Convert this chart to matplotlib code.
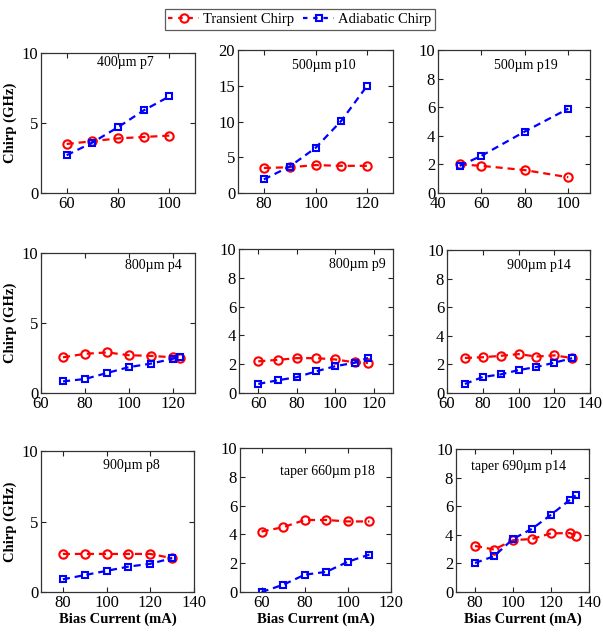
import matplotlib
matplotlib.use("Agg")
import matplotlib.pyplot as plt
from matplotlib.lines import Line2D

plt.rcParams['font.family'] = ['Liberation Serif', 'DejaVu Serif']

# ---------------- data ----------------
titles = ["400\u00b5m p7", "500\u00b5m p10", "500\u00b5m p19",
          "800\u00b5m p4", "800\u00b5m p9", "900\u00b5m p14",
          "900\u00b5m p8", "taper 660\u00b5m p18", "taper 690\u00b5m p14"]

x1 = [60, 70, 80, 90, 100]
tr1 = [3.5, 3.7, 3.9, 4.0, 4.1]
ad1 = [2.7, 3.6, 4.7, 5.9, 6.9]

x2 = [80, 90, 100, 110, 120]
tr2 = [3.5, 3.6, 3.9, 3.8, 3.8]
ad2 = [1.9, 3.7, 6.3, 10.1, 15.0]

x3 = [50, 60, 80, 100]
tr3 = [2.0, 1.9, 1.6, 1.1]
ad3 = [1.9, 2.6, 4.3, 5.9]

x4 = [70, 80, 90, 100, 110, 120, 123]
tr4 = [2.55, 2.8, 2.9, 2.7, 2.65, 2.55, 2.5]
ad4 = [0.83, 1.0, 1.43, 1.85, 2.1, 2.45, 2.55]

x5 = [60, 70, 80, 90, 100, 110, 117]
tr5 = [2.2, 2.3, 2.42, 2.42, 2.33, 2.13, 2.08]
ad5 = [0.63, 0.88, 1.1, 1.5, 1.86, 2.1, 2.44]

x6 = [70, 80, 90, 100, 110, 120, 130]
tr6 = [2.45, 2.5, 2.6, 2.72, 2.55, 2.63, 2.45]
ad6 = [0.63, 1.12, 1.3, 1.6, 1.82, 2.12, 2.43]

x7 = [80, 90, 100, 110, 120, 130]
tr7 = [2.7, 2.7, 2.7, 2.7, 2.7, 2.4]
ad7 = [0.9, 1.2, 1.5, 1.8, 2.0, 2.4]

x8 = [60, 70, 80, 90, 100, 110]
tr8 = [4.2, 4.5, 5.0, 5.0, 4.9, 4.9]
ad8 = [0.0, 0.5, 1.2, 1.4, 2.1, 2.6]

x9 = [80, 90, 100, 110, 120, 130, 133]
tr9 = [3.22, 2.97, 3.62, 3.71, 4.1, 4.12, 3.93]
ad9 = [2.03, 2.5, 3.71, 4.42, 5.4, 6.45, 6.75]

xs = [x1, x2, x3, x4, x5, x6, x7, x8, x9]
trs = [tr1, tr2, tr3, tr4, tr5, tr6, tr7, tr8, tr9]
ads = [ad1, ad2, ad3, ad4, ad5, ad6, ad7, ad8, ad9]

xlims = [(50, 110), (70, 130), (40, 110), (60, 130), (50, 130), (60, 140),
         (70, 140), (50, 120), (70, 140)]
xticks = [[60, 80, 100], [80, 100, 120], [40, 60, 80, 100], [60, 80, 100, 120],
          [60, 80, 100, 120], [60, 80, 100, 120, 140], [80, 100, 120, 140],
          [60, 80, 100, 120], [80, 100, 120, 140]]
ylims = [(0, 10), (0, 20), (0, 10), (0, 10), (0, 10), (0, 10), (0, 10), (0, 10), (0, 10)]
yticks = [[0, 5, 10], [0, 5, 10, 15, 20], [0, 2, 4, 6, 8, 10], [0, 5, 10],
          [0, 2, 4, 6, 8, 10], [0, 2, 4, 6, 8, 10], [0, 5, 10],
          [0, 2, 4, 6, 8, 10], [0, 2, 4, 6, 8, 10]]
xtick_labels = [[str(t) for t in tk] for tk in xticks]

# ---------------- layout ----------------
W, H = 603, 635
boxes = [(41, 53, 195, 193), (238, 50, 393, 193), (438, 50, 590, 193),
         (41, 253, 195, 393), (239, 249, 393, 393), (447, 250, 590, 393),
         (41, 451, 194, 592), (240, 448, 391, 592), (456, 449, 589, 592)]
text_pos = [(0.55, 0.93), (0.555, 0.895), (0.58, 0.895), (0.73, 0.914),
            (0.766, 0.89), (0.64, 0.89), (0.59, 0.90), (0.576, 0.84), (0.47, 0.875)]

fig = plt.figure(figsize=(W / 100, H / 100), dpi=100)

red = '#ff0000'
blue = '#0000ff'
lw = 1.6
dash = (3.2, 2.2)

for i in range(9):
    l, t, r, b = boxes[i]
    ax = fig.add_axes([l / W, 1 - b / H, (r - l) / W, (b - t) / H])
    ax.plot(xs[i], trs[i], color=red, lw=lw, ls=(0, dash), marker='o',
            ms=6, mfc='none', mec=red, mew=1.5)
    ax.plot(xs[i], ads[i], color=blue, lw=lw, ls=(0, dash), marker='s',
            ms=5, mfc='none', mec=blue, mew=1.5)
    ax.set_xlim(*xlims[i])
    ax.set_ylim(*ylims[i])
    ax.set_xticks(xticks[i])
    ax.set_xticklabels(xtick_labels[i])
    ax.set_yticks(yticks[i])
    ax.tick_params(direction='in', top=True, right=True, length=3.5,
                   width=0.8, labelsize=12, pad=2, colors='#222222',
                   labelcolor='black')
    for s in ax.spines.values():
        s.set_color('#333333')
        s.set_linewidth(0.9)
    ax.text(text_pos[i][0], text_pos[i][1], titles[i], transform=ax.transAxes,
            ha='center', va='center', fontsize=10)
    if i % 3 == 0:
        ax.set_ylabel('Chirp (GHz)', fontsize=10.5, fontweight='bold', labelpad=3)
    if i >= 6:
        ax.set_xlabel('Bias Current (mA)', fontsize=10.5, fontweight='bold', labelpad=1)

leg_dash = (2.0, 2.6)
handles = [Line2D([], [], color=red, lw=lw, ls=(0, leg_dash), marker='o', ms=6,
                  mfc='none', mec=red, mew=1.5),
           Line2D([], [], color=blue, lw=lw, ls=(0, leg_dash), marker='s', ms=5,
                  mfc='none', mec=blue, mew=1.5)]
leg = fig.legend(handles, ['Transient Chirp', 'Adiabatic Chirp'], ncol=2,
                 loc='center', bbox_to_anchor=(300 / W, 1 - 19.5 / H),
                 fontsize=10.5, frameon=True, fancybox=False, handlelength=2.1,
                 handletextpad=0.3, columnspacing=0.6, borderpad=0.25,
                 borderaxespad=0, numpoints=1)
leg.get_frame().set_edgecolor('#333333')
leg.get_frame().set_linewidth(0.9)

fig.savefig('out.png', dpi=100)
